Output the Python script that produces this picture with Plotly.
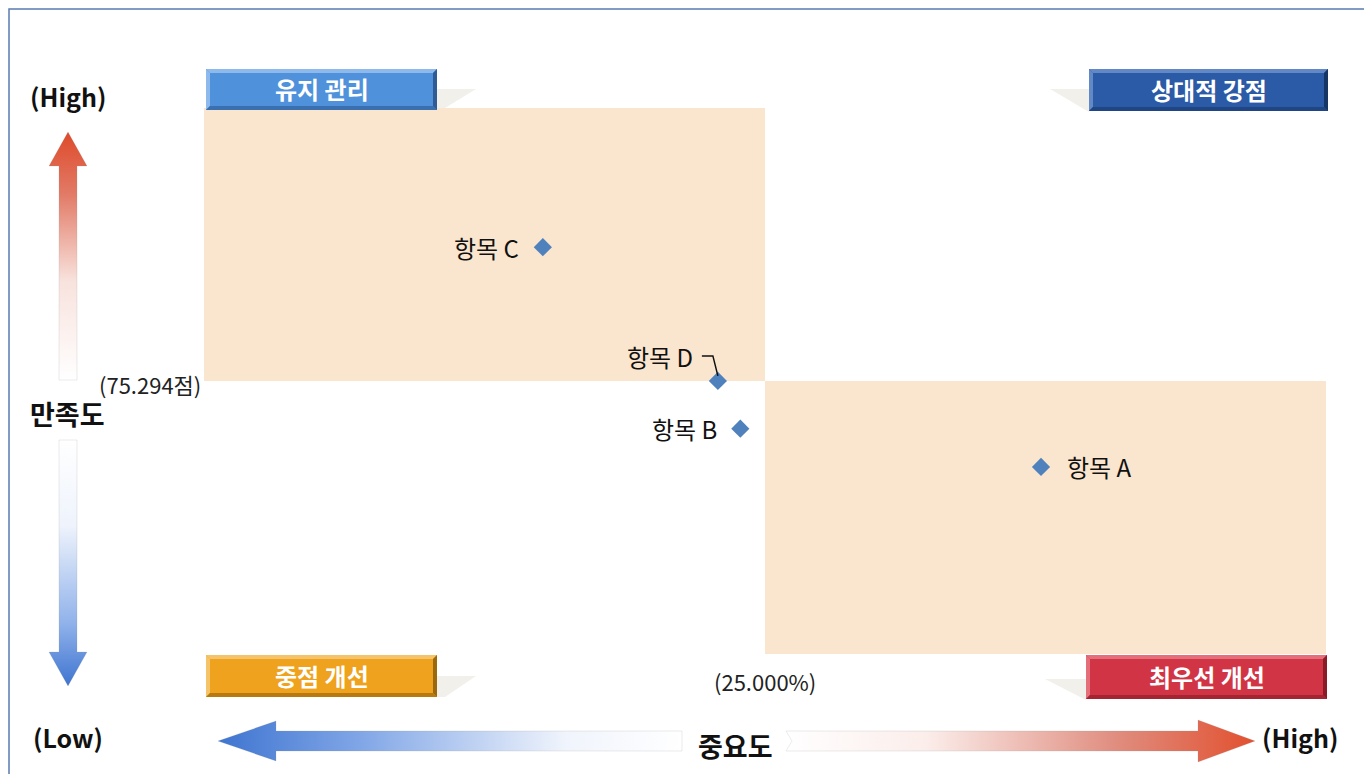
import plotly.graph_objects as go

# data
items = ['항목 A', '항목 B', '항목 C', '항목 D']
importance = [37.3, 23.9, 15.1, 22.9]        # 중요도 (%)
satisfaction = [69.0, 71.8, 85.1, 75.3]      # 만족도 (점)
imp_mean = 25.000
sat_mean = 75.294

quadrant_titles = ['유지 관리', '상대적 강점', '중점 개선', '최우선 개선']

# label placement per item: (xanchor, xshift, yshift)
label_pos = {
    '항목 A': ('left', 24, 0),
    '항목 B': ('right', -21, 0),
    '항목 C': ('right', -22, 0),
    '항목 D': ('right', -23, 24),
}

W, H = 1372, 774          # browser window
OFF = 8                   # default page margin around the plot div
FW, FH = W - OFF, H - OFF
FONT = 'Noto Sans CJK KR'
x_rng = [imp_mean - 25, imp_mean + 25]
y_rng = [sat_mean - 20, sat_mean + 20]


def dx(px):
    return (px - OFF) / FW


def dy(py):
    return 1 - (py - OFF) / FH


fig = go.Figure()

# points
fig.add_trace(go.Scatter(
    x=importance, y=satisfaction, mode='markers',
    marker=dict(symbol='diamond', size=14, color='#4F81BD'),
    hovertext=items, showlegend=False, xaxis='x', yaxis='y'
))

shapes = []
annotations = []

# shaded quadrants (low importance / high satisfaction, high importance / low satisfaction)
shade = '#FAE6CE'
shapes.append(dict(type='rect', xref='x', yref='y', x0=x_rng[0], x1=imp_mean,
                   y0=sat_mean, y1=y_rng[1], fillcolor=shade, line_width=0, layer='below'))
shapes.append(dict(type='rect', xref='x', yref='y', x0=imp_mean, x1=x_rng[1],
                   y0=y_rng[0], y1=sat_mean, fillcolor=shade, line_width=0, layer='below'))

# item labels
for name, xv, yv in zip(items, importance, satisfaction):
    anc, xs, ys = label_pos[name]
    annotations.append(dict(x=xv, y=yv, xref='x', yref='y', text=name, showarrow=False,
                            xanchor=anc, yanchor='middle', xshift=xs, yshift=ys,
                            font=dict(family=FONT, size=24, color='#111111')))

# leader line for 항목 D
d = items.index('항목 D')
shapes.append(dict(type='path', xref='x', yref='y', xsizemode='pixel', ysizemode='pixel',
                   xanchor=importance[d], yanchor=satisfaction[d],
                   path='M -16,25 L -5,25 L 0,5', line=dict(color='#111111', width=1.5)))

# mean labels
annotations.append(dict(x=x_rng[0], y=sat_mean, xref='x', yref='y', text='(75.294점)',
                        showarrow=False, xanchor='right', xshift=-1, yshift=-3,
                        font=dict(family=FONT, size=22, color='#222222')))
annotations.append(dict(x=imp_mean, y=681, xref='x', yref='y2', text='(25.000%)',
                        showarrow=False, xanchor='center', yanchor='middle',
                        font=dict(family=FONT, size=22, color='#222222')))


# bevelled quadrant title boxes (screen pixel coordinates on overlay axes)
def bevel_box(x0, y0, x1, y1, base, light, dark, darker, text, b=4):
    common = dict(type='path', xref='x2', yref='y2', line_width=0, layer='above')
    shapes.append(dict(common, path=f'M {x0},{y0} L {x1},{y0} L {x1},{y1} L {x0},{y1} Z', fillcolor=base))
    shapes.append(dict(common, path=f'M {x0},{y0} L {x1},{y0} L {x1-b},{y0+b} L {x0+b},{y0+b} Z', fillcolor=light))
    shapes.append(dict(common, path=f'M {x0},{y0} L {x0+b},{y0+b} L {x0+b},{y1-b} L {x0},{y1} Z', fillcolor=light))
    shapes.append(dict(common, path=f'M {x0},{y1} L {x0+b},{y1-b} L {x1-b},{y1-b} L {x1},{y1} Z', fillcolor=dark))
    shapes.append(dict(common, path=f'M {x1},{y0} L {x1-b},{y0+b} L {x1-b},{y1-b} L {x1},{y1} Z', fillcolor=darker))
    annotations.append(dict(x=(x0 + x1) / 2, y=(y0 + y1) / 2 - 1, xref='x2', yref='y2', text=f'<b>{text}</b>',
                            showarrow=False, font=dict(family=FONT, size=24, color='white')))


def shadow(path):
    shapes.append(dict(type='path', xref='x2', yref='y2', path=path,
                       fillcolor='#F1F0EB', line_width=0, layer='above'))


shadow('M 437,89 L 476,89 L 445,108 L 437,108 Z')
shadow('M 1050,89 L 1089,89 L 1089,112 Z')
shadow('M 437,676 L 476,676 L 445,697 L 437,697 Z')
shadow('M 1045,679 L 1086,679 L 1086,700 Z')

bevel_box(206, 69, 437, 110, '#4F91DB', '#8DB9EC', '#3A6FB0', '#2F5C94', quadrant_titles[0])
bevel_box(1089, 69, 1328, 111, '#2B5AA6', '#6388C6', '#1F4582', '#163766', quadrant_titles[1])
bevel_box(206, 655, 437, 697, '#EEA21D', '#F5C46A', '#B87A10', '#9C680C', quadrant_titles[2])
bevel_box(1086, 655, 1327, 699, '#D13545', '#E46F7B', '#A42432', '#8A1C28', quadrant_titles[3])


# gradient arrows
def arrow(xs, ys, orient, scale, start, stop):
    fig.add_trace(go.Scatter(
        x=xs, y=ys, mode='lines', fill='toself', xaxis='x2', yaxis='y2',
        line=dict(color='rgba(150,150,150,0.18)', width=1),
        fillgradient=dict(type=orient, colorscale=scale, start=start, stop=stop),
        hoverinfo='skip', showlegend=False
    ))


red_scale = [[0, '#DE4A2A'], [0.25, '#E27A66'], [0.6, '#F8E2DD'], [1, '#FFFFFF']]
blue_scale = [[0, '#FFFFFF'], [0.35, '#EEF3FC'], [0.75, '#8FB1EA'], [1, '#3E74D0']]

arrow([59, 59, 49, 68, 87, 77, 77, 59], [380, 166, 166, 132, 166, 166, 380, 380],
      'vertical', red_scale, 132, 380)
arrow([59, 59, 49, 68, 87, 77, 77, 59], [440, 652, 652, 686, 652, 652, 440, 440],
      'vertical', blue_scale, 440, 686)
arrow([682, 276, 276, 218, 276, 276, 682, 682], [731, 731, 721, 741, 761, 751, 751, 731],
      'horizontal', [[0, '#3E74D0'], [0.3, '#7FA5E6'], [0.75, '#F0F4FC'], [1, '#FFFFFF']], 218, 682)
arrow([786, 1198, 1198, 1255, 1198, 1198, 786, 792, 786], [731, 731, 720, 741, 762, 751, 751, 741, 731],
      'horizontal', [[0, '#FFFFFF'], [0.3, '#FBEDEA'], [0.7, '#E08E80'], [1, '#E2502F']], 786, 1255)

# axis captions
cap = dict(xref='x2', yref='y2', showarrow=False, font=dict(family=FONT, size=25, color='#111111'))
big = dict(family=FONT, size=27, color='#111111')
annotations.append(dict(cap, x=68, y=96, text='<b>(High)</b>'))
annotations.append(dict(cap, x=67, y=413, text='<b>만족도</b>', font=big))
annotations.append(dict(cap, x=68, y=737, text='<b>(Low)</b>'))
annotations.append(dict(cap, x=1300, y=737, text='<b>(High)</b>'))
annotations.append(dict(cap, x=735, y=745, text='<b>중요도</b>', font=big))

# outer frame
shapes.append(dict(type='rect', xref='x2', yref='y2', x0=9, y0=9, x1=W + 20, y1=H + 20,
                   line=dict(color='#5A7BAE', width=1.5), fillcolor='rgba(0,0,0,0)', layer='above'))

fig.update_layout(
    width=FW, height=FH,
    margin=dict(l=0, r=0, t=0, b=0),
    paper_bgcolor='white',
    plot_bgcolor='rgba(0,0,0,0)',
    xaxis=dict(domain=[dx(204), dx(1326)], range=x_rng, visible=False, fixedrange=True),
    yaxis=dict(domain=[dy(654), dy(108)], range=y_rng, visible=False, fixedrange=True),
    xaxis2=dict(domain=[0, 1], range=[OFF, W], visible=False, anchor='y2', fixedrange=True),
    yaxis2=dict(domain=[0, 1], range=[H, OFF], visible=False, anchor='x2', fixedrange=True),
    shapes=shapes,
    annotations=annotations,
    showlegend=False,
)

fig.write_html("out.html")
